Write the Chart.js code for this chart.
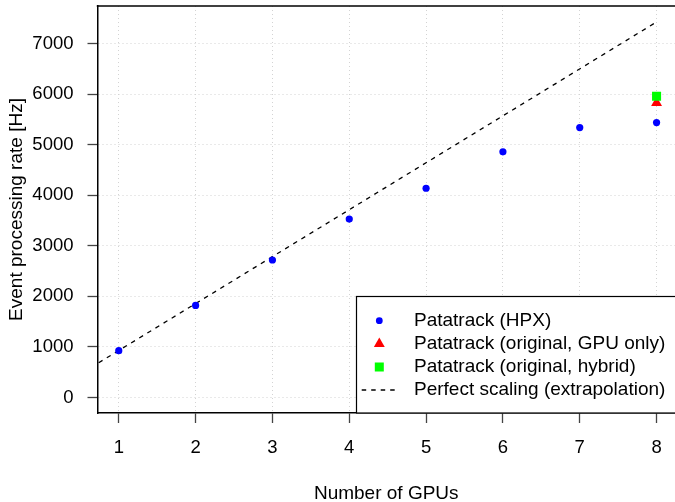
<!DOCTYPE html>
<html>
<head>
<meta charset="utf-8">
<title>Patatrack scaling</title>
<script src="https://cdn.jsdelivr.net/npm/chart.js@4.4.1/dist/chart.umd.min.js"></script>
<style>
  html, body { margin: 0; padding: 0; background: #ffffff; }
  #wrap { width: 675px; height: 502px; }
</style>
</head>
<body>
<div id="wrap"><canvas id="scalingChart" width="675" height="502"></canvas></div>
<script>
// Event processing rate vs. number of GPUs
const gpuCounts = [1, 2, 3, 4, 5, 6, 7, 8];
const hpxRates = [925, 1820, 2720, 3530, 4140, 4860, 5340, 5440];

const originalGpuOnlyX = [8];
const originalGpuOnlyRates = [5830];

const originalHybridX = [8];
const originalHybridRates = [5960];

// perfect scaling (extrapolated from 1 GPU), line from 0 to 8 GPUs
const perfectX = [0, 8];
const perfectRates = [0, 7430];

const xTickValues = [1, 2, 3, 4, 5, 6, 7, 8];
const yTickValues = [0, 1000, 2000, 3000, 4000, 5000, 6000, 7000];

const FONT_FAMILY = "'Liberation Sans', Arial, Helvetica, sans-serif";

function toPoints(xs, ys) {
    return xs.map((x, i) => ({ x: x, y: ys[i] }));
}

const datasets = [
    {
        label: "Patatrack (HPX)",
        data: toPoints(gpuCounts, hpxRates),
        pointStyle: "circle",
        pointRadius: 3.6,
        pointBorderWidth: 0,
        backgroundColor: "#0000ff",
        borderColor: "#0000ff",
        order: 2
    },
    {
        label: "Patatrack (original, GPU only)",
        data: toPoints(originalGpuOnlyX, originalGpuOnlyRates),
        pointStyle: "triangle",
        pointRadius: 6.3,
        pointBorderWidth: 0,
        backgroundColor: "#ff0000",
        borderColor: "#ff0000",
        order: 1
    },
    {
        label: "Patatrack (original, hybrid)",
        data: toPoints(originalHybridX, originalHybridRates),
        pointStyle: "rect",
        pointRadius: 6.4,
        pointBorderWidth: 0,
        backgroundColor: "#00ff00",
        borderColor: "#00ff00",
        order: 0
    },
    {
        label: "Perfect scaling (extrapolation)",
        data: toPoints(perfectX, perfectRates),
        showLine: true,
        pointRadius: 0,
        borderColor: "#000000",
        borderWidth: 1.3,
        borderDash: [4.5, 5],
        order: 3
    }
];

// closes the box on top (R draws a full frame, the right side is cut off)
const topFramePlugin = {
    id: "topFrame",
    afterDraw(chart) {
        const { ctx, chartArea } = chart;
        ctx.save();
        ctx.strokeStyle = "#000000";
        ctx.lineWidth = 1.5;
        ctx.beginPath();
        ctx.moveTo(chartArea.left - 0.75, chartArea.top);
        ctx.lineTo(chartArea.right + 1, chartArea.top);
        ctx.stroke();
        ctx.restore();
    }
};

// R style legend box in the bottom right corner
const legendBoxPlugin = {
    id: "legendBox",
    afterDraw(chart) {
        const { ctx, chartArea } = chart;
        const left = 356.5;
        const top = 296.5;
        const right = chartArea.right + 10;
        const bottom = chartArea.bottom;
        const symbolX = 379.3;
        const textX = 414;
        const rowY = [320.7, 343.8, 367, 390];

        ctx.save();
        ctx.fillStyle = "#ffffff";
        ctx.fillRect(left, top, right - left, bottom - top);
        ctx.strokeStyle = "#000000";
        ctx.lineWidth = 1.2;
        ctx.strokeRect(left, top, right - left, bottom - top);

        chart.data.datasets.forEach((ds, i) => {
            const y = rowY[i];
            ctx.fillStyle = ds.backgroundColor;
            if (ds.pointStyle === "circle") {
                ctx.beginPath();
                ctx.arc(symbolX, y, 3.4, 0, Math.PI * 2);
                ctx.fill();
            } else if (ds.pointStyle === "triangle") {
                const r = 6.3;
                ctx.beginPath();
                ctx.moveTo(symbolX, y - r);
                ctx.lineTo(symbolX + r * 0.866, y + r / 2);
                ctx.lineTo(symbolX - r * 0.866, y + r / 2);
                ctx.closePath();
                ctx.fill();
            } else if (ds.pointStyle === "rect") {
                ctx.fillRect(symbolX - 4.5, y - 4.5, 9, 9);
            } else {
                ctx.strokeStyle = ds.borderColor;
                ctx.lineWidth = ds.borderWidth;
                ctx.setLineDash(ds.borderDash);
                ctx.beginPath();
                ctx.moveTo(361.7, y);
                ctx.lineTo(395.5, y);
                ctx.stroke();
                ctx.setLineDash([]);
            }
            ctx.fillStyle = "#000000";
            ctx.font = "19px " + FONT_FAMILY;
            ctx.textBaseline = "middle";
            ctx.textAlign = "left";
            ctx.fillText(ds.label, textX, y);
        });
        ctx.restore();
    }
};

// fixed axis sizes so the plot region sits where R put it
function fixAxisSize(prop, size) {
    return (scale) => {
        scale[prop] = size;
        scale.paddingTop = 0;
        scale.paddingBottom = 0;
        scale.paddingLeft = 0;
        scale.paddingRight = 0;
    };
}

const gridOptions = {
    color: "#d3d3d3",
    lineWidth: 1,
    tickLength: 10,
    tickColor: "#444444",
    tickWidth: 1.3,
    tickBorderDash: []
};
const borderOptions = { display: true, color: "#000000", width: 1.5, dash: [1, 3] };
const tickFont = { family: FONT_FAMILY, size: 18.5, lineHeight: 1 };
const titleFont = { family: FONT_FAMILY, size: 19, lineHeight: 1 };

new Chart(document.getElementById("scalingChart"), {
    type: "scatter",
    data: { datasets: datasets },
    options: {
        responsive: false,
        animation: false,
        events: [],
        layout: { autoPadding: false, padding: { top: 6, right: 0, bottom: 0, left: 0 } },
        plugins: {
            legend: { display: false },
            tooltip: { enabled: false }
        },
        scales: {
            x: {
                type: "linear",
                min: 0.723,
                max: 8.24,
                afterBuildTicks: (scale) => { scale.ticks = xTickValues.map((v) => ({ value: v })); },
                afterFit: fixAxisSize("height", 89),
                grid: gridOptions,
                border: borderOptions,
                ticks: {
                    color: "#000000",
                    font: tickFont,
                    padding: 16,
                    maxRotation: 0,
                    autoSkip: false,
                    callback: (v) => String(v)
                },
                title: {
                    display: true,
                    text: "Number of GPUs",
                    color: "#000000",
                    font: titleFont,
                    padding: { top: 0, bottom: -1 }
                }
            },
            y: {
                type: "linear",
                min: -308,
                max: 7746,
                afterBuildTicks: (scale) => { scale.ticks = yTickValues.map((v) => ({ value: v })); },
                afterFit: fixAxisSize("width", 97.5),
                grid: gridOptions,
                border: borderOptions,
                ticks: {
                    color: "#000000",
                    font: tickFont,
                    padding: 14,
                    autoSkip: false,
                    callback: (v) => String(v)
                },
                title: {
                    display: true,
                    text: "Event processing rate [Hz]",
                    color: "#000000",
                    font: titleFont,
                    padding: { top: 7, bottom: 0 }
                }
            }
        }
    },
    plugins: [topFramePlugin, legendBoxPlugin]
});
</script>
</body>
</html>
